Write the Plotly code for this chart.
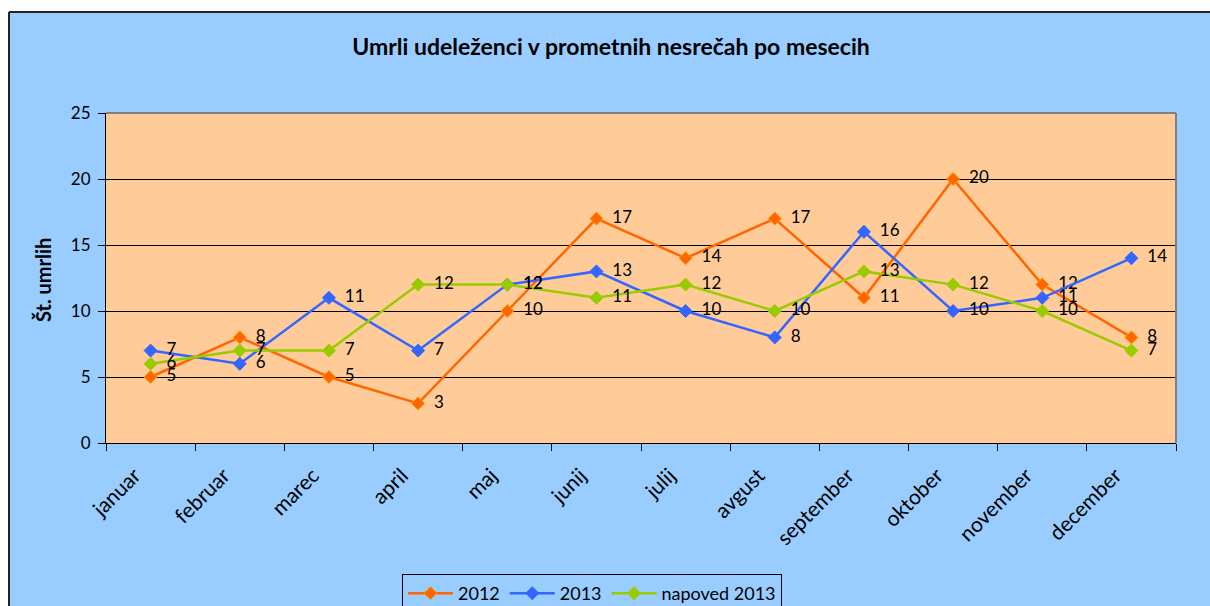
import plotly.graph_objects as go

months = ["januar", "februar", "marec", "april", "maj", "junij", "julij",
          "avgust", "september", "oktober", "november", "december"]
y2012 = [5, 8, 5, 3, 10, 17, 14, 17, 11, 20, 12, 8]
y2013 = [7, 6, 11, 7, 12, 13, 10, 8, 16, 10, 11, 14]
napoved2013 = [6, 7, 7, 12, 12, 11, 12, 10, 13, 12, 10, 7]

series = [
    ("2012", y2012, "#FF6600", "#FF9900"),
    ("2013", y2013, "#3366FF", "#3366FF"),
    ("napoved 2013", napoved2013, "#99CC00", "#99CC00"),
]

FONT = "Lato"
W, H = 1210, 606
L, R, T, B = 106, 34, 113, 163
pw, ph = W - L - R, H - T - B


def px(x):
    return (x - L) / pw


def py(y):
    return (H - B - y) / ph


fig = go.Figure()
for name, vals, lc, mc in series:
    fig.add_trace(go.Scatter(
        x=months, y=vals, name=name, mode="lines+markers+text",
        text=["\u00a0\u00a0" + str(v) for v in vals], textposition="middle right",
        textfont=dict(family=FONT, size=17, color="black"),
        line=dict(color=lc, width=2.5),
        marker=dict(symbol="diamond", size=10, color=lc, line=dict(color=mc, width=1)),
        hoverinfo="skip", cliponaxis=False,
    ))

shapes = [
    dict(type="rect", xref="paper", yref="paper", x0=px(-5), x1=px(9), y0=py(-5), y1=py(650),
         fillcolor="white", line=dict(width=0), layer="above"),
    dict(type="rect", xref="paper", yref="paper", x0=px(-5), x1=px(1250), y0=py(12), y1=py(-5),
         fillcolor="white", line=dict(width=0), layer="above"),
    dict(type="line", xref="paper", yref="paper", x0=px(9), x1=px(1250), y0=py(12), y1=py(12),
         line=dict(color="#222222", width=2), layer="above"),
    dict(type="line", xref="paper", yref="paper", x0=px(9), x1=px(9), y0=py(12), y1=py(650),
         line=dict(color="#222222", width=2), layer="above"),
    dict(type="line", xref="paper", yref="paper", x0=0, x1=1, y0=1, y1=1,
         line=dict(color="#808080", width=2), layer="above"),
    dict(type="line", xref="paper", yref="paper", x0=1, x1=1, y0=0, y1=1,
         line=dict(color="#808080", width=2), layer="above"),
]

fig.update_layout(
    width=W, height=H,
    margin=dict(l=L, r=R, t=T, b=B, autoexpand=False),
    paper_bgcolor="#99CCFF", plot_bgcolor="#FFCC99",
    font=dict(family=FONT, size=17, color="black"),
    title=dict(text="<b>Umrli udeleženci v prometnih nesrečah po mesecih</b>",
               x=px(611), xanchor="center", xref="paper", y=1 - 47 / H, yanchor="middle",
               font=dict(family=FONT, size=23, color="black")),
    xaxis=dict(type="category", range=[-0.5, 11.5], tickson="boundaries",
               ticks="outside", ticklen=7, tickcolor="black", tickwidth=1,
               showline=True, linecolor="black", linewidth=1,
               showgrid=False, tickangle=-45, automargin=False,
               ticklabelstandoff=11, ticklabelshift=-16,
               tickfont=dict(family=FONT, size=21, color="black")),
    yaxis=dict(range=[0, 25], dtick=5, tick0=0, ticks="outside", ticklen=7,
               tickcolor="black", showline=True, linecolor="black", linewidth=1,
               showgrid=True, gridcolor="black", gridwidth=1, zeroline=False,
               automargin=False, ticklabelstandoff=4,
               tickfont=dict(family=FONT, size=17, color="black")),
    annotations=[dict(text="<b>Št. umrlih</b>", xref="paper", yref="paper",
                      x=px(43), y=py(280), xanchor="center", yanchor="middle",
                      textangle=-90, showarrow=False,
                      font=dict(family=FONT, size=20, color="black"))],
    legend=dict(orientation="h", x=px(592), xanchor="center", y=py(574), yanchor="top",
                bgcolor="#99CCFF", bordercolor="black", borderwidth=1,
                font=dict(family=FONT, size=18, color="black"),
                itemwidth=45, tracegroupgap=0),
    shapes=shapes,
    showlegend=True,
)

fig.write_html("out.html", config={"displayModeBar": False},
               post_script="document.body.style.margin='0';")
